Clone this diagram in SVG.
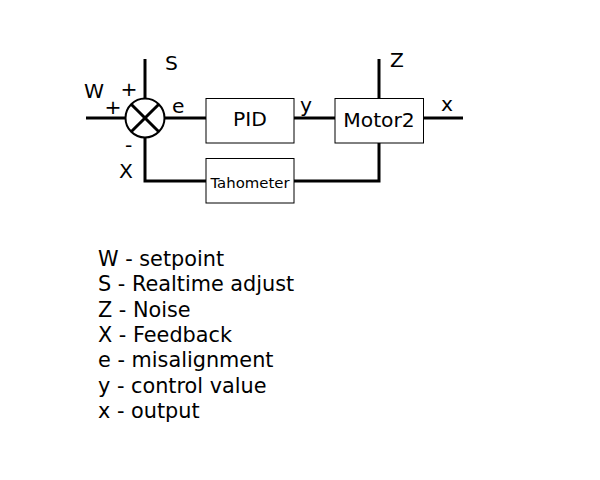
<svg xmlns="http://www.w3.org/2000/svg" width="600" height="480" viewBox="0 0 600 480">
<style>
text{font-family:"DejaVu Sans",sans-serif;fill:#000}
.w{stroke:#000;stroke-width:3;fill:none}
.box{fill:#fff;stroke:#000;stroke-width:1}
.lbl{font-size:20.3px}
.leg{font-size:20.8px}
</style>
<rect width="600" height="480" fill="#fff"/>
<g id="connectors">
<line class="w" x1="86" y1="118" x2="125" y2="118"/>
<line class="w" x1="145" y1="59" x2="145" y2="98"/>
<polyline class="w" points="145,138 145,181 206,181"/>
<line class="w" x1="165" y1="118" x2="206" y2="118"/>
<line class="w" x1="294" y1="118" x2="335" y2="118"/>
<line class="w" x1="379" y1="59" x2="379" y2="98"/>
<line class="w" x1="424" y1="118" x2="463" y2="118"/>
<polyline class="w" points="379,143 379,181 294,181"/>
</g>
<g id="sum">
<circle cx="145" cy="118" r="19.5" fill="#fff" stroke="#000" stroke-width="2"/>
<line class="w" x1="131.2" y1="104.2" x2="158.8" y2="131.8"/>
<line class="w" x1="158.8" y1="104.2" x2="131.2" y2="131.8"/>
</g>
<g id="pid">
<rect class="box" x="206" y="98.5" width="88" height="44.5"/>
<text class="lbl" x="250" y="126" text-anchor="middle">PID</text>
</g>
<g id="motor2">
<rect class="box" x="335" y="98.5" width="88.5" height="44.5"/>
<text class="lbl" x="379" y="127" text-anchor="middle">Motor2</text>
</g>
<g id="tahometer">
<rect class="box" x="206" y="158.5" width="88" height="44.5"/>
<text x="250" y="188" font-size="14.9" text-anchor="middle">Tahometer</text>
</g>
<g id="labels" class="lbl">
<text x="165" y="70">S</text>
<text x="84" y="98">W</text>
<text x="104.5" y="114">+</text>
<text x="120.5" y="96">+</text>
<text x="172" y="113">e</text>
<text x="125" y="152">-</text>
<text x="119" y="178">X</text>
<text x="300" y="112">y</text>
<text x="390" y="67">Z</text>
<text x="441" y="111">x</text>
</g>
<g id="legend" class="leg">
<text x="98" y="266">W - setpoint</text>
<text x="98" y="291.3">S - Realtime adjust</text>
<text x="98" y="316.6">Z - Noise</text>
<text x="98" y="342">X - Feedback</text>
<text x="98" y="367.3">e - misalignment</text>
<text x="98" y="392.6">y - control value</text>
<text x="98" y="418">x - output</text>
</g>
</svg>
